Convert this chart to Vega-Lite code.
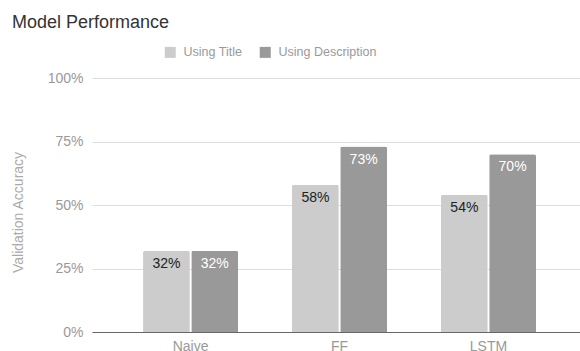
{
  "$schema": "https://vega.github.io/schema/vega-lite/v6.json",
  "width": 488,
  "height": 254,
  "autosize": "none",
  "padding": {"left": 92, "top": 78, "right": 0, "bottom": 19},
  "background": "#ffffff",
  "config": {
    "font": "Liberation Sans",
    "view": {"stroke": null}
  },
  "title": {
    "text": "Model Performance",
    "anchor": "start",
    "frame": "group",
    "dx": -80,
    "offset": 0,
    "baseline": "alphabetic",
    "fontSize": 18,
    "fontWeight": "normal",
    "color": "#333333"
  },
  "data": {
    "values": [
      {"model": "Naive", "series": "Using Title", "accuracy": 0.32},
      {"model": "Naive", "series": "Using Description", "accuracy": 0.32},
      {"model": "FF", "series": "Using Title", "accuracy": 0.58},
      {"model": "FF", "series": "Using Description", "accuracy": 0.73},
      {"model": "LSTM", "series": "Using Title", "accuracy": 0.54},
      {"model": "LSTM", "series": "Using Description", "accuracy": 0.70}
    ]
  },
  "encoding": {
    "x": {
      "field": "model",
      "type": "nominal",
      "sort": ["Naive", "FF", "LSTM"],
      "scale": {"paddingInner": 0.362, "paddingOuter": 0.319, "align": 0.537},
      "axis": {
        "title": null,
        "labelAngle": 0,
        "labelFontSize": 14,
        "labelColor": "#999999",
        "labelPadding": 7,
        "ticks": false,
        "domainColor": "#666666",
        "domainWidth": 1,
        "grid": false
      }
    },
    "xOffset": {
      "field": "series",
      "type": "nominal",
      "sort": ["Using Title", "Using Description"],
      "scale": {"paddingInner": 0.03, "paddingOuter": 0}
    },
    "y": {
      "field": "accuracy",
      "type": "quantitative",
      "scale": {"domain": [0, 1], "nice": false},
      "axis": {
        "title": "Validation Accuracy",
        "titleFontSize": 14,
        "titleFontWeight": "normal",
        "titleColor": "#aaaaaa",
        "titleX": -67,
        "titleY": 134,
        "titleAnchor": "middle",
        "format": ".0%",
        "values": [0, 0.25, 0.5, 0.75, 1],
        "labelFontSize": 14,
        "labelColor": "#999999",
        "labelPadding": 9,
        "ticks": false,
        "domain": false,
        "gridColor": "#dddddd",
        "gridWidth": 1
      }
    }
  },
  "layer": [
    {
      "mark": {"type": "bar", "cornerRadiusTopLeft": 2, "cornerRadiusTopRight": 2},
      "encoding": {
        "color": {
          "field": "series",
          "type": "nominal",
          "sort": ["Using Title", "Using Description"],
          "scale": {"domain": ["Using Title", "Using Description"], "range": ["#cccccc", "#999999"]},
          "legend": {
            "title": null,
            "orient": "none",
            "direction": "horizontal",
            "legendX": 72,
            "legendY": -32,
            "padding": 0,
            "symbolType": "square",
            "symbolSize": 121,
            "symbolStrokeWidth": 0,
            "labelFontSize": 12.5,
            "labelColor": "#999999",
            "labelOffset": 7,
            "columnPadding": 16
          }
        }
      }
    },
    {
      "mark": {"type": "text", "baseline": "top", "dy": 6, "fontSize": 14},
      "encoding": {
        "text": {"field": "accuracy", "type": "quantitative", "format": ".0%"},
        "color": {
          "condition": {"test": "datum.series === 'Using Title'", "value": "#222222"},
          "value": "#ffffff"
        }
      }
    }
  ]
}
